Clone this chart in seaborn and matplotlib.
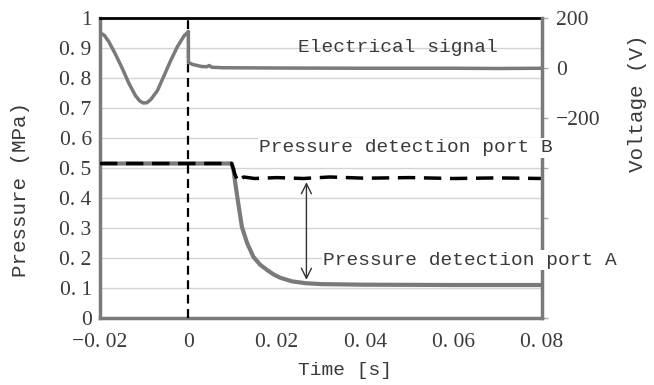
import matplotlib
matplotlib.use("Agg")
import matplotlib.pyplot as plt
import seaborn as sns
import numpy as np

# electrical signal (voltage, right axis)
sig_t = [-0.02, -0.019, -0.018, -0.0165, -0.015, -0.0135, -0.012, -0.011, -0.0102, -0.0094,
         -0.0085, -0.007, -0.0055, -0.004, -0.0025, -0.001, 0.0, 0.0, 0.001, 0.002,
         0.003, 0.0042, 0.0047, 0.0053, 0.008, 0.02, 0.04, 0.06, 0.07, 0.08]
sig_v = [142, 130, 105, 55, 0, -60, -110, -132, -140, -139,
         -126, -90, -30, 30, 85, 128, 146, 22, 14, 10,
         6, 5, 10, 3, 1, 0, -1, -1, -2, -1]

# pressure port A (gray solid)
a_t = [-0.02, 0.0098, 0.0102, 0.0106, 0.011, 0.0114, 0.0121, 0.0133, 0.0147, 0.0162,
       0.0178, 0.0193, 0.0208, 0.0235, 0.0265, 0.03, 0.035, 0.04, 0.06, 0.08]
a_p = [0.515, 0.515, 0.495, 0.45, 0.41, 0.371, 0.304, 0.249, 0.204, 0.178,
       0.16, 0.145, 0.134, 0.122, 0.116, 0.113, 0.112, 0.111, 0.11, 0.11]

# pressure port B (black dashed)
b_t = [-0.02, 0.0098, 0.0105, 0.0112, 0.0125, 0.015, 0.02, 0.026, 0.032, 0.04,
       0.05, 0.06, 0.07, 0.08]
b_p = [0.515, 0.515, 0.48, 0.455, 0.47, 0.465, 0.468, 0.465, 0.47, 0.466,
       0.468, 0.465, 0.467, 0.465]

xticks = [-0.02, 0, 0.02, 0.04, 0.06, 0.08]
xlabels = ["\u22120. 02", "0", "0. 02", "0. 04", "0. 06", "0. 08"]
yticks = [0, 0.1, 0.2, 0.3, 0.4, 0.5, 0.6, 0.7, 0.8, 0.9, 1]
ylabels = ["0", "0. 1", "0. 2", "0. 3", "0. 4", "0. 5", "0. 6", "0. 7", "0. 8", "0. 9", "1"]
vticks = [-1000, -800, -600, -400, -200, 0, 200]
vlabels = ["", "", "", "", "\u2212200", "0", "200"]

sns.set_style("white")
plt.rcParams['font.family'] = ['Liberation Serif', 'DejaVu Serif']
gray = "#7a7a7a"
txt = "#3a3a3a"

fig = plt.figure(figsize=(6.54, 3.85), dpi=100)
ax = fig.add_axes([100/654, 1-318/385, 442/654, 300/385])

ax.set_xlim(-0.02, 0.08)
ax.set_ylim(0, 1)
for y in yticks[1:-1]:
    ax.axhline(y, color="#d4d4d4", lw=1, zorder=0)

sns.lineplot(x=a_t, y=a_p, ax=ax, color=gray, lw=3, estimator=None, sort=False, zorder=3)
sns.lineplot(x=b_t, y=b_p, ax=ax, color="black", lw=2.5, estimator=None, sort=False,
             linestyle=(0, (5, 2.5)), zorder=4)
ax.axvline(0, color="black", lw=1.6, linestyle=(0, (4, 2.5)), zorder=5)

ax.set_xticks(xticks)
ax.set_xticklabels(xlabels, fontsize=15.5, color=txt)
ax.set_xticks(np.arange(-0.02, 0.0801, 0.004), minor=True)
ax.set_yticks(yticks)
ax.set_yticklabels(ylabels, fontsize=15.5, color=txt)
ax.tick_params(axis="x", which="both", direction="out", length=5, width=1, color="#aaaaaa", pad=6)
ax.tick_params(axis="y", length=0, pad=6)

for s in ["left", "bottom"]:
    ax.spines[s].set_color(gray)
    ax.spines[s].set_linewidth(2.5)
ax.spines["top"].set_color("black")
ax.spines["top"].set_linewidth(2)
ax.spines["right"].set_visible(False)

ax.set_xlabel("Time [s]", family="Liberation Mono", fontsize=14, color=txt)
ax.xaxis.set_label_coords(0.554, -0.147)
ax.set_ylabel("Pressure (MPa)", family="Liberation Mono", fontsize=15, color=txt)
ax.yaxis.set_label_coords(-0.158, 0.427)

ax2 = ax.twinx()
ax2.set_ylim(-1000, 200)
sns.lineplot(x=sig_t, y=sig_v, ax=ax2, color=gray, lw=2.5, estimator=None, sort=False, zorder=3)
ax2.set_yticks(vticks)
ax2.set_yticklabels(vlabels, fontsize=15.5, color=txt)
ax2.tick_params(axis="y", direction="out", length=4, width=1, color="#aaaaaa", pad=6)
for s in ["left", "top", "bottom"]:
    ax2.spines[s].set_visible(False)
ax2.spines["right"].set_color(gray)
ax2.spines["right"].set_linewidth(2.5)
ax2.set_ylabel("Voltage (V)", family="Liberation Mono", fontsize=15, color=txt)
ax2.yaxis.set_label_coords(1.195, 0.717)

# labels with white boxes (cover grid and right spine)
box = dict(facecolor="white", edgecolor="none", pad=1)
ax.text(0.0473, 0.90, "Electrical signal", family="Liberation Mono", fontsize=14,
        color=txt, ha="center", va="center", zorder=6)
ax2.text(0.0493, 0.567, "Pressure detection port B", transform=ax.transData,
         family="Liberation Mono", fontsize=14, color=txt, ha="center", va="center",
         bbox=box, zorder=10, clip_on=False)
ax2.text(0.0305, 0.193, "Pressure detection port A", transform=ax.transData,
         family="Liberation Mono", fontsize=14, color=txt, ha="left", va="center",
         bbox=box, zorder=10, clip_on=False)

ax.annotate("", xy=(0.0267, 0.118), xytext=(0.0267, 0.462),
            arrowprops=dict(arrowstyle="<->", color="#333333", lw=1, mutation_scale=18),
            zorder=6)

fig.savefig("out.png", dpi=100)
